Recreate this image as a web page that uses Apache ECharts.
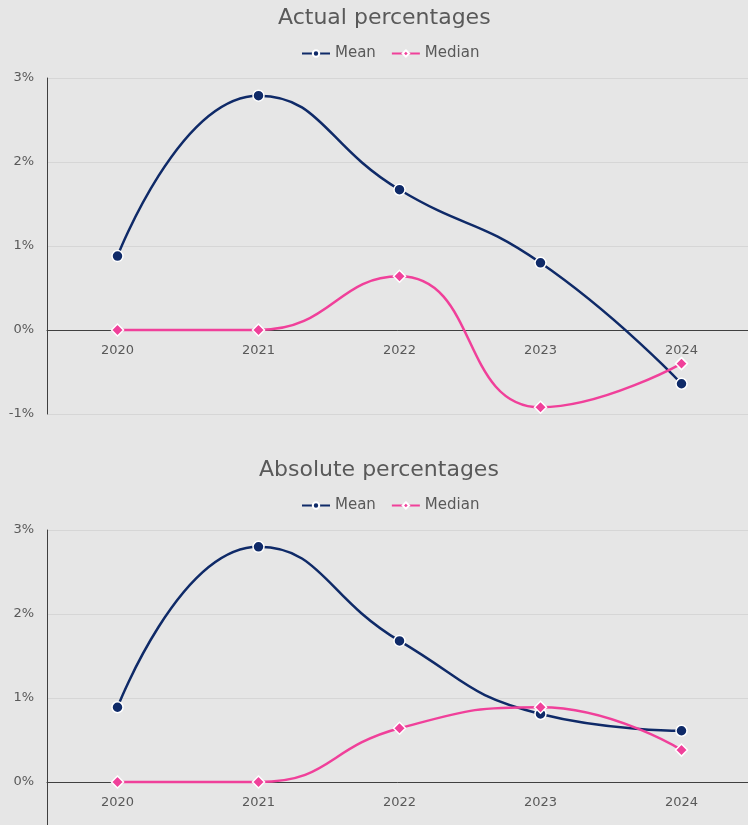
<!DOCTYPE html>
<html><head><meta charset="utf-8">
<script src="https://cdn.jsdelivr.net/npm/echarts@6/dist/echarts.min.js"></script>
<style>html,body{margin:0;padding:0;background:#e6e6e6;}#c{width:748px;height:825px;}</style>
</head><body><div id="c"></div>
<script>
const years = ['2020','2021','2022','2023','2024'];
const actualMean = [0.88, 2.79, 1.67, 0.80, -0.64];
const actualMedian = [0.0, 0.0, 0.64, -0.92, -0.40];
const absoluteMean = [0.89, 2.80, 1.68, 0.81, 0.61];
const absoluteMedian = [0.0, 0.0, 0.64, 0.89, 0.38];
const titles = ['Actual percentages', 'Absolute percentages'];
const seriesNames = ['Mean', 'Median'];

const navy = '#0f2a68';
const pink = '#f0409a';
const font = 'DejaVu Sans';
const textColor = '#595959';

function xAx(gi){
  return {type:'category', gridIndex:gi, data:years, boundaryGap:true,
    position:'bottom', offset:-84,
    axisLine:{onZero:false, lineStyle:{color:'#404040', width:1}},
    axisTick:{show:false},
    axisLabel:{color:textColor, fontFamily:font, fontSize:13, margin:14},
    splitLine:{show:false}};
}
function yAx(gi){
  return {type:'value', gridIndex:gi, min:-1, max:3, interval:1,
    axisLine:{show:true, lineStyle:{color:'#404040', width:1}},
    axisTick:{show:false},
    axisLabel:{color:textColor, fontFamily:font, fontSize:13, margin:13, formatter:'{value}%'},
    splitLine:{lineStyle:{color:'#d6d6d6', width:1}}};
}
function ser(name, data, gi, color, sym){
  return {name:name, type:'line', xAxisIndex:gi, yAxisIndex:gi, data:data, smooth:0.5,
    symbol:sym, symbolSize: sym==='circle'?11:12,
    lineStyle:{color:color, width:2.5},
    itemStyle:{color:color, borderColor:'#ffffff', borderWidth:1.5},
    z: name==='Mean'?2:3};
}
function legendAt(top){
  return {data:seriesNames, top:top, left:296, itemWidth:28, itemHeight:8, itemGap:15,
    textStyle:{color:textColor, fontFamily:font, fontSize:15}};
}
function titleAt(text, top, left){
  return {text:text, left:left, top:top,
    textStyle:{color:textColor, fontFamily:font, fontSize:22, fontWeight:'normal'}};
}

const chart = echarts.init(document.getElementById('c'));
chart.setOption({
  backgroundColor:'#e6e6e6',
  animation:false,
  title:[titleAt(titles[0], 2, 273), titleAt(titles[1], 454, 254)],
  legend:[legendAt(41), legendAt(493)],
  grid:[
    {left:47, top:78, width:705, height:336, outerBoundsMode:'none'},
    {left:47, top:530, width:705, height:336, outerBoundsMode:'none'}
  ],
  xAxis:[xAx(0), xAx(1)],
  yAxis:[yAx(0), yAx(1)],
  series:[
    ser(seriesNames[0], actualMean, 0, navy, 'circle'),
    ser(seriesNames[1], actualMedian, 0, pink, 'diamond'),
    ser(seriesNames[0], absoluteMean, 1, navy, 'circle'),
    ser(seriesNames[1], absoluteMedian, 1, pink, 'diamond')
  ]
});
</script></body></html>
